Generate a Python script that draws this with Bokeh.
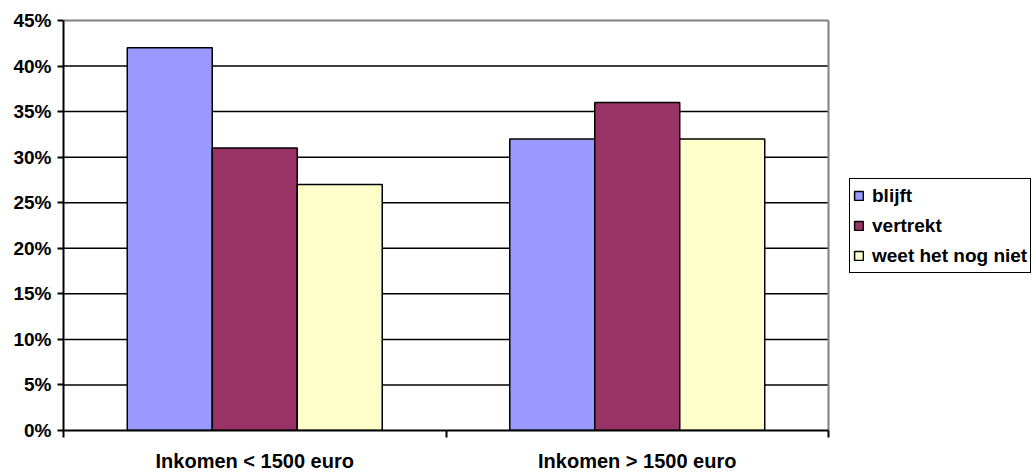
from bokeh.plotting import figure
from bokeh.models import ColumnDataSource, Range1d, FixedTicker, Legend, LegendItem
from bokeh.transform import dodge
from bokeh.embed import file_html
from bokeh.resources import INLINE

categories = ["Inkomen < 1500 euro", "Inkomen > 1500 euro"]
series = ["blijft", "vertrekt", "weet het nog niet"]
blijft = [0.42, 0.32]
vertrekt = [0.31, 0.36]
weet = [0.27, 0.32]
colors = ["#9999FF", "#993366", "#FFFFCC"]
y_ticks = [0.0, 0.05, 0.10, 0.15, 0.20, 0.25, 0.30, 0.35, 0.40, 0.45]
y_labels = ["0%", "5%", "10%", "15%", "20%", "25%", "30%", "35%", "40%", "45%"]

FONT = "Liberation Sans"

# layout (pixels): plot area 63..828 x 20..433 inside a 1036x474 canvas;
# the frame is extended right (legend room) and slightly up (so the top border is not clipped)
W, H = 1036, 474
left, top_px, bottom_px = 63, 16, 41
plot_w, plot_h = 765, 413
frame_w = W - left
frame_h = H - top_px - bottom_px
n = len(categories)
x_end = n * frame_w / plot_w
y_end = y_ticks[-1] * frame_h / plot_h

centers = [i + 0.5 for i in range(n)]
bounds = [float(i) for i in range(n + 1)]
source = ColumnDataSource(dict(x=centers, blijft=blijft, vertrekt=vertrekt, weet=weet))

p = figure(width=W, height=H, output_backend="svg", toolbar_location=None,
           x_range=Range1d(0, x_end), y_range=Range1d(0, y_end),
           min_border_left=left, min_border_right=0, min_border_top=top_px,
           min_border_bottom=bottom_px)

p.background_fill_color = "white"
p.border_fill_color = "white"
p.outline_line_color = None
p.xgrid.visible = False
p.ygrid.visible = False

# horizontal gridlines within the plot area
gl = y_ticks[1:-1]
p.segment(x0=[0] * len(gl), x1=[n] * len(gl), y0=gl, y1=gl, line_color="black", line_width=1.5)
# grey plot-area border (top and right)
p.segment(x0=[0, n], x1=[n, n], y0=[y_ticks[-1], 0], y1=[y_ticks[-1], y_ticks[-1]],
          line_color="#808080", line_width=2)

bar_w = 0.2222
cols = ["blijft", "vertrekt", "weet"]
offsets = [-bar_w, 0.0, bar_w]
renderers = []
for col, color, off in zip(cols, colors, offsets):
    r = p.vbar(x=dodge("x", off, range=p.x_range), top=col, width=bar_w, bottom=0,
               source=source, fill_color=color, line_color="black", line_width=1.5)
    renderers.append(r)

# y axis
p.yaxis.bounds = (0, y_ticks[-1])
p.yaxis.ticker = FixedTicker(ticks=y_ticks)
p.yaxis.major_label_overrides = {t: l for t, l in zip(y_ticks, y_labels)}
p.yaxis.axis_line_color = "black"
p.yaxis.axis_line_width = 2
p.yaxis.major_tick_line_color = "black"
p.yaxis.major_tick_line_width = 2
p.yaxis.major_tick_out = 6
p.yaxis.major_tick_in = 0
p.yaxis.minor_tick_line_color = None
p.yaxis.major_label_standoff = 6
p.yaxis.major_label_text_font = FONT
p.yaxis.major_label_text_font_style = "bold"
p.yaxis.major_label_text_font_size = "19px"
p.yaxis.major_label_text_color = "black"

# x axis
p.xaxis.bounds = (0, n)
p.xaxis.ticker = FixedTicker(ticks=centers, minor_ticks=bounds)
p.xaxis.major_label_overrides = {c: l for c, l in zip(centers, categories)}
p.xaxis.axis_line_color = "black"
p.xaxis.axis_line_width = 2
p.xaxis.major_tick_out = 0
p.xaxis.major_tick_in = 0
p.xaxis.major_tick_line_color = None
p.xaxis.minor_tick_line_color = "black"
p.xaxis.minor_tick_line_width = 2
p.xaxis.minor_tick_out = 7
p.xaxis.minor_tick_in = 0
p.xaxis.major_label_standoff = 12
p.xaxis.major_label_text_font = FONT
p.xaxis.major_label_text_font_style = "bold"
p.xaxis.major_label_text_font_size = "20px"
p.xaxis.major_label_text_color = "black"

# legend
lg = Legend(items=[LegendItem(label=s, renderers=[r]) for s, r in zip(series, renderers)])
lg.location = (786, 157)
lg.label_text_font = FONT
lg.label_text_font_style = "bold"
lg.label_text_font_size = "19px"
lg.label_text_color = "black"
lg.border_line_color = "black"
lg.border_line_alpha = 1.0
lg.border_line_width = 1.5
lg.background_fill_color = "white"
lg.background_fill_alpha = 1.0
lg.padding = 3
lg.spacing = 3
lg.label_height = 27
lg.glyph_height = 11
lg.glyph_width = 11
lg.label_standoff = 8
lg.margin = 0
p.add_layout(lg, "center")

open("out.html", "w").write(file_html(p, INLINE))
